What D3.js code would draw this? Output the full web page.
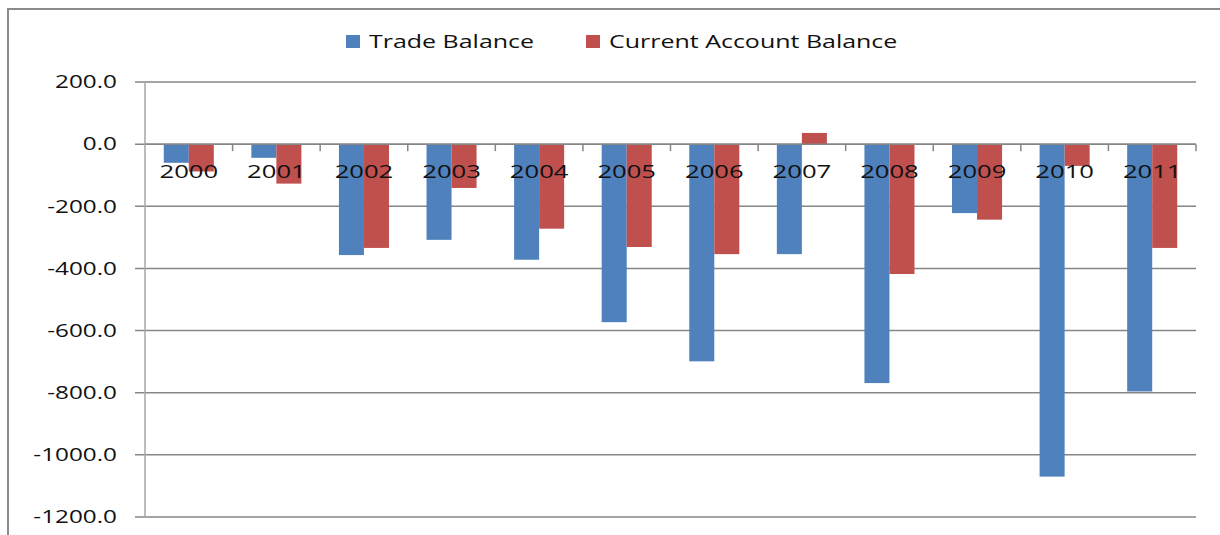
<!DOCTYPE html>
<html>
<head>
<meta charset="utf-8">
<script src="https://cdn.jsdelivr.net/npm/d3@7"></script>
<style>
  body { margin: 0; background: #fff; }
  text { font-family: "Open Sans", "Liberation Sans", sans-serif; fill: #111; }
</style>
</head>
<body>
<svg id="chart" width="1220" height="535"></svg>
<script>
var years = ["2000", "2001", "2002", "2003", "2004", "2005",
             "2006", "2007", "2008", "2009", "2010", "2011"];
var tradeBalance   = [-60, -44, -357, -308, -372, -573, -699, -354, -769, -222, -1070, -796];
var currentAccount = [-88, -127, -334, -141, -272, -331, -354, 36, -418, -243, -70, -334];
var seriesNames = ["Trade Balance", "Current Account Balance"];
var seriesColors = ["#4F81BD", "#C0504D"];
var yTicks = [200, 0, -200, -400, -600, -800, -1000, -1200];

var svg = d3.select("#chart");
var stretch = 1.35; // the source text is widened horizontally

var margin = {top: 82, right: 24, bottom: 18, left: 145},
    width = 1220 - margin.left - margin.right,
    height = 535 - margin.top - margin.bottom;

// outer chart frame (only top and left edges are visible)
svg.append("path")
  .attr("d", "M8,535V9H1220")
  .attr("fill", "none")
  .attr("stroke", "#8a8a8a")
  .attr("stroke-width", 2);

var g = svg.append("g")
  .attr("transform", "translate(" + margin.left + "," + margin.top + ")");

var x0 = d3.scaleBand().domain(years).range([0, width]).padding(0);
var x1 = d3.scaleBand().domain(seriesNames)
  .range([0, x0.bandwidth()]).paddingInner(0).paddingOuter(0.75);
var y = d3.scaleLinear().domain([-1200, 200]).range([height, 0]);

// gridlines + y tick marks
g.append("g")
  .selectAll("line")
  .data(yTicks)
  .enter().append("line")
    .attr("x1", -10)
    .attr("x2", width)
    .attr("y1", function(d) { return y(d); })
    .attr("y2", function(d) { return y(d); })
    .attr("stroke", "#868686")
    .attr("stroke-width", 1.5);

// y labels
g.append("g")
  .selectAll("text")
  .data(yTicks)
  .enter().append("text")
    .attr("transform", function(d) { return "translate(-28," + y(d) + ") scale(" + stretch + ",1)"; })
    .attr("dy", "0.35em")
    .style("text-anchor", "end")
    .style("font-size", "18px")
    .text(function(d) { return d3.format(".1f")(d).replace("\u2212", "-"); });

// bars
var rows = years.map(function(yr, i) {
  return {year: yr, values: [tradeBalance[i], currentAccount[i]]};
});

var groups = g.append("g")
  .selectAll("g")
  .data(rows)
  .enter().append("g")
    .attr("transform", function(d) { return "translate(" + x0(d.year) + ",0)"; });

groups.selectAll("rect")
  .data(function(d) {
    return d.values.map(function(v, k) { return {key: seriesNames[k], value: v, idx: k}; });
  })
  .enter().append("rect")
    .attr("x", function(d) { return x1(d.key); })
    .attr("width", x1.bandwidth())
    .attr("y", function(d) { return y(Math.max(0, d.value)); })
    .attr("height", function(d) { return Math.abs(y(d.value) - y(0)); })
    .style("fill", function(d) { return seriesColors[d.idx]; });

// zero axis line again on top of bars, with category tick marks
g.append("line")
  .attr("x1", 0).attr("x2", width)
  .attr("y1", y(0)).attr("y2", y(0))
  .attr("stroke", "#868686")
  .attr("stroke-width", 1.5);

g.append("g")
  .selectAll("line")
  .data(years.slice(1).concat(["end"]))
  .enter().append("line")
    .attr("x1", function(d) { return d == "end" ? width : x0(d); })
    .attr("x2", function(d) { return d == "end" ? width : x0(d); })
    .attr("y1", y(0))
    .attr("y2", y(0) + 7)
    .attr("stroke", "#868686")
    .attr("stroke-width", 1.5);

// left axis line
g.append("line")
  .attr("x1", 0).attr("x2", 0)
  .attr("y1", 0).attr("y2", height)
  .attr("stroke", "#a6a6a6")
  .attr("stroke-width", 1.5);

// category labels (drawn over the bars)
g.append("g")
  .selectAll("text")
  .data(years)
  .enter().append("text")
    .attr("transform", function(d) {
      return "translate(" + (x0(d) + x0.bandwidth() / 2) + "," + (y(0) + 34) + ") scale(" + stretch + ",1)";
    })
    .style("text-anchor", "middle")
    .style("font-size", "19px")
    .text(function(d) { return d; });

// legend
var legendX = [346, 586];
var legend = svg.append("g").attr("class", "legend");
seriesNames.forEach(function(name, i) {
  legend.append("rect")
    .attr("x", legendX[i])
    .attr("y", 35)
    .attr("width", 14)
    .attr("height", 13)
    .style("fill", seriesColors[i]);
  legend.append("text")
    .attr("transform", "translate(" + (legendX[i] + 23) + ",48) scale(" + stretch + ",1)")
    .style("font-size", "18.5px")
    .text(name);
});
</script>
</body>
</html>
